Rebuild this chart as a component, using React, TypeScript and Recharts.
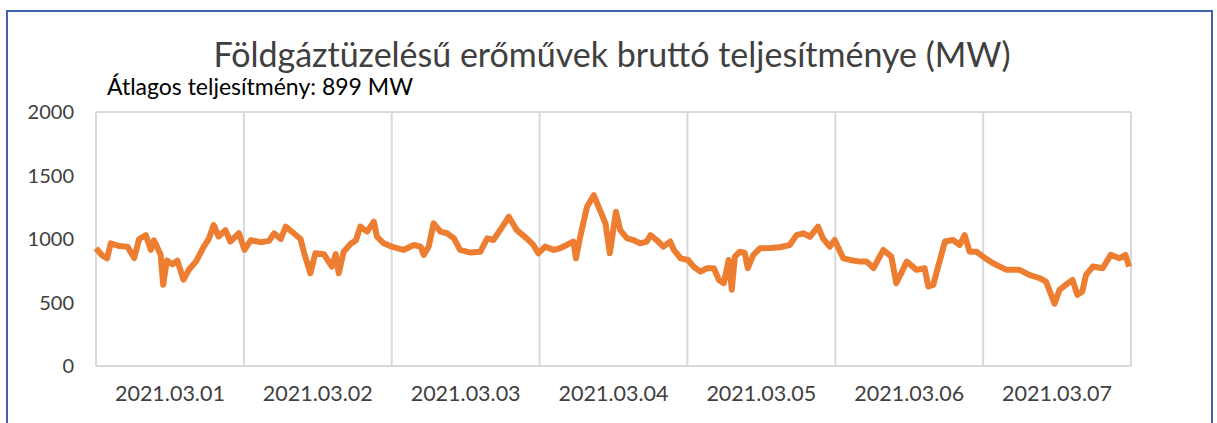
import { CartesianGrid, Line, LineChart, XAxis, YAxis } from "recharts";

// hours since 2021.03.01 00:00
const HOURS = [
  0, 1.0, 1.8, 2.4, 3.7, 5.1, 6.2, 7.0, 8.1, 8.9, 9.4, 9.9, 10.5, 10.9, 11.5, 12.4, 13.2, 14.2, 15.1, 16.2,
  17.5, 18.3, 19.1, 19.9, 21.0, 21.8, 23.2, 24.1, 25.1, 26.7, 28.1, 28.9, 30.0, 30.8, 32.1, 33.2, 33.8, 34.8,
  35.6, 37.0, 38.3, 38.9, 39.4, 40.2, 41.3, 42.2, 42.9, 44.0, 45.1, 45.6, 46.7, 48.0, 49.9, 51.6, 52.7, 53.2,
  54.0, 54.8, 55.9, 57.0, 58.1, 59.1, 60.8, 62.4, 63.5, 64.5, 65.6, 67.0, 68.3, 69.9, 71.0, 71.8, 72.9, 74.3,
  75.3, 76.4, 77.5, 77.9, 78.6, 79.7, 80.8, 81.8, 82.7, 83.4, 84.4, 85.1, 86.2, 87.2, 88.3, 89.4, 90.0, 91.0,
  92.1, 93.2, 93.8, 94.9, 96.1, 97.0, 98.1, 99.2, 100.3, 101.1, 101.9, 102.7, 103.2, 103.7, 104.5, 105.3,
  105.8, 106.7, 107.8, 109.4, 111.0, 112.6, 113.7, 114.8, 115.9, 117.2, 118.0, 119.1, 119.9, 121.3, 122.4,
  124.0, 125.1, 126.2, 127.8, 129.1, 129.9, 131.6, 133.2, 134.5, 135.1, 135.9, 136.7, 137.8, 139.1, 140.2,
  141.0, 141.8, 142.9, 144.0, 145.6, 147.8, 149.9, 151.5, 153.2, 154.2, 155.6, 156.4, 157.4, 158.5, 159.3,
  160.1, 160.7, 161.8, 163.4, 164.7, 166.1, 167.1, 167.7,
];

const OUTPUT_MW = [
  927, 870, 848, 966, 945, 940, 850, 1000, 1030, 914, 990, 940, 875, 640, 830, 800, 830, 680, 760, 820,
  940, 1000, 1110, 1020, 1070, 980, 1045, 914, 990, 975, 985, 1045, 1000, 1097, 1045, 1000, 887, 730,
  887, 880, 783, 880, 730, 900, 960, 990, 1097, 1058, 1136, 1018, 966, 940, 914, 953, 940, 875,
  940, 1123, 1058, 1045, 1005, 914, 893, 900, 1005, 992, 1070, 1175, 1070, 1005, 953, 887, 940, 914,
  927, 953, 980, 848, 1018, 1254, 1345, 1228, 1123, 887, 1215, 1070, 1005, 992, 966, 980, 1030, 992,
  940, 980, 914, 848, 835, 783, 743, 770, 770, 678, 652, 835, 600, 861, 900, 890,
  770, 875, 927, 930, 935, 953, 1030, 1045, 1018, 1097, 1005, 940, 992, 848, 835,
  822, 822, 770, 914, 861, 652, 822, 757, 770, 626, 639, 783, 980, 992, 953,
  1030, 900, 900, 861, 809, 757, 757, 718, 691, 665, 490, 600, 639, 678, 560,
  587, 718, 783, 770, 875, 848, 875, 783,
];

const DAY_LABELS = [
  "2021.03.01", "2021.03.02", "2021.03.03", "2021.03.04", "2021.03.05", "2021.03.06", "2021.03.07",
];
const DAY_TICKS = [0, 24, 48, 72, 96, 120, 144, 168];
const MW_TICKS = [0, 500, 1000, 1500, 2000];

const TITLE = "Földgáztüzelésű erőművek bruttó teljesítménye (MW)";
const SUBTITLE = "Átlagos teljesítmény: 899 MW";

const data = HOURS.map((t, i) => ({ t, mw: OUTPUT_MW[i] }));

const FONT = "Lato, 'Open Sans', sans-serif";
const HALF_DAY_PX = 1035 / 7 / 2;

function DayTick(props: any) {
  const { x, y, payload } = props;
  const index = DAY_TICKS.indexOf(payload.value);
  if (index < 0 || index >= DAY_LABELS.length) return null;
  return (
    <text
      x={x + HALF_DAY_PX}
      y={y + 19}
      textAnchor="middle"
      dominantBaseline="central"
      fill="#404040"
      fontSize={21.5}
      fontFamily={FONT}
    >
      {DAY_LABELS[index]}
    </text>
  );
}

export default function App() {
  return (
    <div style={{ position: "absolute", left: 0, top: 0, width: 1217, height: 423, background: "#fff", overflow: "hidden" }}>
      <div
        style={{
          position: "absolute",
          left: 6,
          top: 10,
          width: 1207,
          height: 430,
          boxSizing: "border-box",
          border: "2px solid #3F63AA",
        }}
      />
      <div
        style={{
          position: "absolute",
          left: 0,
          width: 1224,
          top: 37,
          textAlign: "center",
          fontFamily: FONT,
          fontSize: 34,
          lineHeight: "34px",
          color: "#404040",
          whiteSpace: "nowrap",
        }}
      >
        {TITLE}
      </div>
      <div
        style={{
          position: "absolute",
          left: 107,
          top: 75,
          fontFamily: FONT,
          fontSize: 23,
          lineHeight: "23px",
          color: "#000",
          whiteSpace: "nowrap",
        }}
      >
        {SUBTITLE}
      </div>
      <div style={{ position: "absolute", left: 0, top: 0 }}>
        <LineChart
          width={1217}
          height={423}
          data={data}
          margin={{ top: 112, right: 26, bottom: 17, left: 36 }}
        >
          <CartesianGrid stroke="#D9D9D9" strokeWidth={2} />
          <XAxis
            dataKey="t"
            type="number"
            domain={[0, 168]}
            ticks={DAY_TICKS}
            axisLine={false}
            tickLine={false}
            height={40}
            interval={0}
            tick={<DayTick />}
          />
          <YAxis
            yAxisId="left"
            orientation="left"
            domain={[0, 2000]}
            ticks={MW_TICKS}
            axisLine={false}
            tickLine={false}
            tickSize={0}
            tickMargin={22}
            width={60}
            tick={{ fill: "#404040", fontSize: 20, fontFamily: FONT }}
          />
          <YAxis
            yAxisId="right"
            orientation="right"
            domain={[0, 2000]}
            ticks={MW_TICKS}
            axisLine={false}
            tickLine={false}
            tickSize={0}
            tickMargin={24}
            width={60}
            tick={{ fill: "#404040", fontSize: 20, fontFamily: FONT }}
          />
          <Line
            yAxisId="left"
            type="linear"
            dataKey="mw"
            stroke="#ED7D31"
            strokeWidth={6}
            strokeLinejoin="round"
            dot={false}
            isAnimationActive={false}
          />
        </LineChart>
      </div>
    </div>
  );
}
